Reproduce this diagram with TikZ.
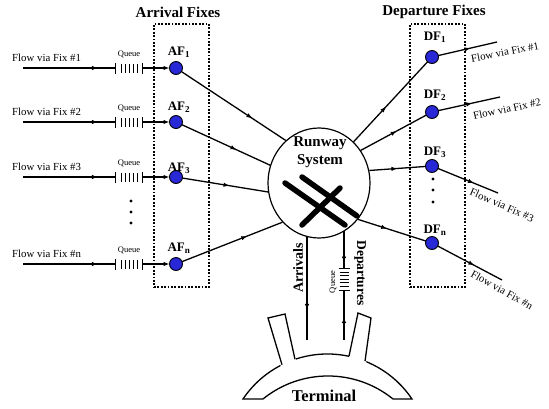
\documentclass[tikz,border=0pt]{standalone}
\usepackage{fontspec}
\setmainfont{Liberation Serif}
\usetikzlibrary{arrows.meta,decorations.markings,shapes.geometric}
\definecolor{fixblue}{RGB}{40,40,215}
\begin{document}
\begin{tikzpicture}[x=1pt,y=-1pt,
  conn/.style={line width=1.3pt},
  tip/.style={-{Latex[length=6pt,width=4.5pt]}},
  midarrow/.style={postaction={decorate},decoration={markings,mark=at position #1 with {\arrow{Latex[length=6pt,width=4.5pt]}}}},
  fix/.style={circle,draw=black,line width=0.9pt,fill=fixblue,minimum size=13pt,inner sep=0pt,outer sep=0pt},
  fixlabel/.style={font=\fontsize{13}{15}\selectfont\bfseries,inner sep=0pt},
  title/.style={font=\fontsize{15}{18}\selectfont\bfseries,inner sep=0pt},
  flowtext/.style={font=\fontsize{10.8}{13}\selectfont,inner sep=0pt},
  qtext/.style={font=\fontsize{8.5}{10}\selectfont,inner sep=0pt},
  hq/.style={minimum width=27pt,minimum height=11pt,inner sep=0pt,outer sep=0pt},
  vq/.style={minimum width=11pt,minimum height=22pt,inner sep=0pt,outer sep=0pt},
  fixbox/.style={draw,line width=1.8pt,dash pattern=on 1.8pt off 1.6pt,minimum width=55pt,minimum height=263pt,inner sep=0pt},
  dotmark/.style={circle,fill=black,minimum size=3.4pt,inner sep=0pt},
  runway/.style={line width=5.5pt,line cap=round}
]
\useasboundingbox (0,0) rectangle (549,408);

% boxes and titles
\node[fixbox] (abox) at (181.5,155.5) {};
\node[fixbox] (dbox) at (437.5,155.5) {};
\node[title] (atitle) at (178,12) {Arrival Fixes};
\node[title] (dtitle) at (434,12) {Departure Fixes};

% runway system
\node[ellipse,draw,line width=1.2pt,minimum width=102pt,minimum height=110pt,inner sep=0pt] (rw) at (319,183) {};
\node[title,align=center,font=\fontsize{15}{17.5}\selectfont\bfseries] (rwlabel) at (320,152) {Runway\\System};
\draw[runway] (285,183) -- (345,225);
\draw[runway] (302,177) -- (357,216);
\draw[runway] (340,188) -- (302,225);

% arrival fixes
\foreach \k/\y/\ly/\lab in {1/68/52/1, 2/122/107/2, 3/177/168/3, 4/264/248/n}{
  \node[fix] (AF\k) at (176,\y) {};
  \node[fixlabel] (AFl\k) at (179,\ly) {AF\textsubscript{\lab}};
  \coordinate (in\k) at (23,\y);
  \node[hq] (q\k) at (129,\y) {};
  \node[flowtext,anchor=west] (ft\k) at (12,\y-10) {Flow via Fix \#\lab};
  \node[qtext] (qt\k) at (129,\y-14) {Queue};
  \draw[conn,midarrow=0.81] (in\k) -- (q\k.west);
  \draw[conn,tip] (q\k.east) -- (AF\k);
  \foreach \dx in {-13.5,13.5} \draw[line width=1pt] ([xshift=\dx pt,yshift=-5.5pt]q\k.center) -- ([xshift=\dx pt,yshift=5.5pt]q\k.center);
  \foreach \dx in {-8,-4,0,4,8} \draw[line width=0.8pt] ([xshift=\dx pt,yshift=-4.5pt]q\k.center) -- ([xshift=\dx pt,yshift=4.5pt]q\k.center);
}
\node[dotmark] (ad1) at (131,201) {};
\node[dotmark] (ad2) at (131,212) {};
\node[dotmark] (ad3) at (131,223) {};

\draw[conn,midarrow=0.68] (AF1) -- (rw.128);
\draw[conn,midarrow=0.62] (AF2) -- (rw.160);
\draw[conn,midarrow=0.55] (AF3) -- (rw.190);
\draw[conn,midarrow=0.65] (AF4) -- (rw.227);

% departure fixes
\foreach \k/\y/\ly/\lab in {1/57/37/1, 2/112/95/2, 3/166/152/3, 4/243/230/n}{
  \node[fix] (DF\k) at (432,\y) {};
  \node[fixlabel] (DFl\k) at (435,\ly) {DF\textsubscript{\lab}};
}
\node[dotmark] (dd1) at (433,179) {};
\node[dotmark] (dd2) at (433,190) {};
\node[dotmark] (dd3) at (433,202) {};

\draw[conn,midarrow=0.44] (rw.50) -- (DF1);
\draw[conn,midarrow=0.55] (rw.38) -- (DF2);
\draw[conn,midarrow=0.5] (rw.14) -- (DF3);
\draw[conn,midarrow=0.43] (rw.317) -- (DF4);

\coordinate (out1) at (497,42);
\coordinate (out2) at (500,97);
\coordinate (out3) at (498,193);
\coordinate (out4) at (502,280);
\draw[conn,midarrow=0.55] (DF1) -- (out1);
\draw[conn,midarrow=0.55] (DF2) -- (out2);
\draw[conn,midarrow=0.6] (DF3) -- (out3);
\draw[conn,midarrow=0.57] (DF4) -- (out4);
\node[flowtext,rotate=11] (fo1) at (505,52) {Flow via Fix \#1};
\node[flowtext,rotate=12] (fo2) at (507,109) {Flow via Fix \#2};
\node[flowtext,rotate=-24] (fo3) at (502,205) {Flow via Fix \#3};
\node[flowtext,rotate=-29] (fo4) at (502,290) {Flow via Fix \#n};

% arrivals / departures to terminal
\coordinate (arrTop) at (307,236.5);
\coordinate (arrBot) at (307,340);
\coordinate (depTop) at (344,231);
\coordinate (depBot) at (344,340);
\node[vq] (qv) at (344,279) {};
\draw[conn,midarrow=0.71] (arrTop) -- (arrBot);
\draw[conn,midarrow=0.46] (depBot) -- (qv.south);
\draw[conn,midarrow=0.43] (qv.north) -- (depTop);
\foreach \dy in {-11,11} \draw[line width=1pt] ([xshift=-5.5pt,yshift=\dy pt]qv.center) -- ([xshift=5.5pt,yshift=\dy pt]qv.center);
\foreach \dy in {-7,-3.5,0,3.5,7} \draw[line width=0.8pt] ([xshift=-4.5pt,yshift=\dy pt]qv.center) -- ([xshift=4.5pt,yshift=\dy pt]qv.center);
\node[title,rotate=90,font=\fontsize{14}{16}\selectfont\bfseries] (arrlab) at (298,268) {Arrivals};
\node[title,rotate=-90,font=\fontsize{13.5}{16}\selectfont\bfseries] (deplab) at (360,273) {Departures};
\node[qtext,rotate=90] (qvt) at (333,282) {Queue};

% terminal
\draw[line width=1.3pt] (243,399) arc[start angle=-146.1,end angle=-33.9,radius=101.8] -- (393,399) arc[start angle=-51,end angle=-129,radius=103.3] -- cycle;
\fill[white] (281,367) -- (268,318) -- (285,314) -- (296.5,362) -- cycle;
\draw[line width=1.3pt] (282,364.7) -- (268,318) -- (285,314) -- (295,359.3);
\fill[white] (348.5,359) -- (358,313) -- (371,318) -- (366,364) -- cycle;
\draw[line width=1.3pt] (349,356.2) -- (358,313) -- (371,318) -- (365,361.2);
\node[title,font=\fontsize{16.5}{19}\selectfont\bfseries] (term) at (324,396) {Terminal};
\end{tikzpicture}
\end{document}
